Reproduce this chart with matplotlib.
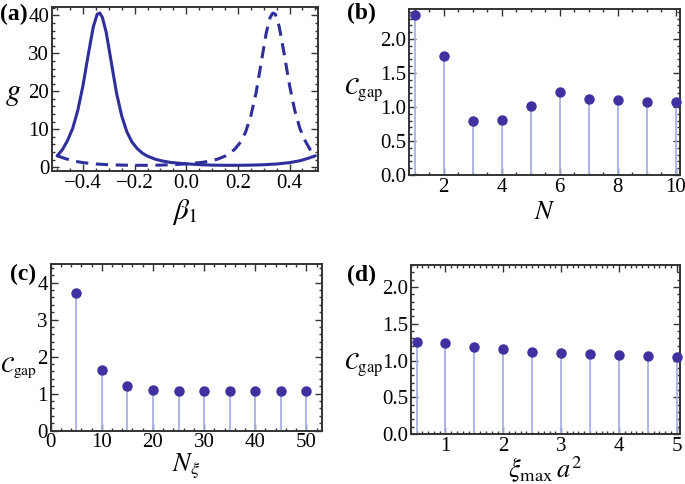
import matplotlib
matplotlib.use("Agg")
import matplotlib.pyplot as plt
from matplotlib.ticker import MultipleLocator

plt.rcParams['font.family'] = ['Liberation Serif', 'DejaVu Serif']
plt.rcParams['mathtext.fontset'] = 'stix'

# (a) g versus beta_1 (solid and dashed curves)
beta_solid = [-0.50, -0.48, -0.46, -0.44, -0.42, -0.40, -0.38, -0.36, -0.345, -0.335,
              -0.325, -0.31, -0.29, -0.27, -0.25, -0.23, -0.21, -0.19, -0.17, -0.15,
              -0.12, -0.09, -0.06, -0.02, 0.02, 0.06, 0.10, 0.15, 0.20, 0.25,
              0.30, 0.35, 0.40, 0.44, 0.47, 0.50]
g_solid = [3.0, 4.6, 7.0, 10.2, 15.0, 21.5, 29.5, 37.0, 40.3, 40.6,
           39.5, 35.5, 27.5, 19.5, 13.5, 9.3, 6.6, 4.9, 3.7, 2.9,
           2.1, 1.6, 1.25, 1.0, 0.8, 0.65, 0.55, 0.5, 0.5, 0.55,
           0.65, 0.85, 1.2, 1.7, 2.3, 3.0]
beta_dashed = [-0.50, -0.47, -0.44, -0.40, -0.35, -0.30, -0.25, -0.20, -0.15, -0.10,
               -0.06, -0.02, 0.02, 0.06, 0.09, 0.12, 0.15, 0.17, 0.19, 0.21,
               0.23, 0.25, 0.27, 0.29, 0.31, 0.325, 0.335, 0.345, 0.36, 0.38,
               0.40, 0.42, 0.44, 0.46, 0.48, 0.50]
g_dashed = [3.0, 2.3, 1.7, 1.2, 0.85, 0.65, 0.55, 0.5, 0.5, 0.55,
            0.65, 0.8, 1.0, 1.25, 1.6, 2.1, 2.9, 3.7, 4.9, 6.6,
            9.3, 13.5, 19.5, 27.5, 35.5, 39.5, 40.6, 40.3, 37.0, 29.5,
            21.5, 15.0, 10.2, 7.0, 4.6, 3.0]

# (b) C_gap versus N
N_vals = [1, 2, 3, 4, 5, 6, 7, 8, 9, 10]
cgap_N = [2.35, 1.75, 0.80, 0.81, 1.02, 1.22, 1.11, 1.10, 1.08, 1.07]

# (c) C_gap versus N_xi
Nxi_vals = [5, 10, 15, 20, 25, 30, 35, 40, 45, 50]
cgap_Nxi = [3.73, 1.63, 1.21, 1.11, 1.08, 1.07, 1.07, 1.07, 1.07, 1.07]

# (d) C_gap versus xi_max a^2
xi_vals = [0.5, 1.0, 1.5, 2.0, 2.5, 3.0, 3.5, 4.0, 4.5, 5.0]
cgap_xi = [1.25, 1.235, 1.185, 1.15, 1.12, 1.098, 1.085, 1.072, 1.062, 1.052]

line_col = '#2e2e9c'
dot_col = '#3f32a0'
stem_col = '#a9b1e3'
frame_col = '#333333'


def frame(ax, xmaj, xmin, ymaj, ymin):
    ax.xaxis.set_major_locator(MultipleLocator(xmaj))
    ax.xaxis.set_minor_locator(MultipleLocator(xmin))
    ax.yaxis.set_major_locator(MultipleLocator(ymaj))
    ax.yaxis.set_minor_locator(MultipleLocator(ymin))
    ax.tick_params(which='both', direction='in', top=True, right=True,
                   color=frame_col, labelsize=15, width=1.0)
    ax.tick_params(which='major', length=5, pad=2)
    ax.tick_params(which='minor', length=2.5)
    for s in ax.spines.values():
        s.set_linewidth(1.4)
        s.set_color(frame_col)


def labels(ax, xl, xy, yl, yx, yy, ysize=17):
    ax.set_xlabel(xl, fontsize=19, va='center', ha='center')
    ax.xaxis.set_label_coords(0.5, xy)
    ax.set_ylabel(yl, fontsize=ysize, rotation=0, va='center', ha='center')
    ax.yaxis.set_label_coords(yx, yy)


def stems(ax, x, y):
    ax.vlines(x, 0, y, color=stem_col, lw=1.3, zorder=2)
    ax.plot(x, y, 'o', color=dot_col, ms=6.5, zorder=3, clip_on=False)


fig = plt.figure(figsize=(6.85, 4.84), dpi=100)
ax_a = fig.add_axes([0.0759, 0.6467, 0.3883, 0.3388])
ax_b = fig.add_axes([0.5971, 0.6384, 0.3956, 0.3430])
ax_c = fig.add_axes([0.0740, 0.1101, 0.3956, 0.3444])
ax_d = fig.add_axes([0.5996, 0.1033, 0.3927, 0.3492])

# (a)
ax_a.plot(beta_solid, g_solid, color=line_col, lw=2.2, solid_capstyle='round')
ax_a.plot(beta_dashed, g_dashed, color=line_col, lw=2.2, dashes=(4, 2.5))
ax_a.set_xlim(-0.52, 0.51)
ax_a.set_ylim(-1.0, 42.2)
frame(ax_a, 0.2, 0.05, 10, 2)
labels(ax_a, r'$\beta_1$', -0.25, r'$g$', -0.147, 0.47)
ax_a.xaxis.label.set_fontsize(21)
ax_a.yaxis.label.set_fontsize(22)

# (b)
stems(ax_b, N_vals, cgap_N)
ax_b.set_xlim(0.8, 10.15)
ax_b.set_ylim(0, 2.44)
frame(ax_b, 2, 0.5, 0.5, 0.1)
labels(ax_b, r'$N$', -0.23, r'$\mathcal{C}_{\rm gap}$', -0.168, 0.51)

# (c)
stems(ax_c, Nxi_vals, cgap_Nxi)
ax_c.set_xlim(0, 53)
ax_c.set_ylim(0, 4.5)
frame(ax_c, 10, 2, 1, 0.2)
labels(ax_c, r'$N_\xi$', -0.22, r'$\mathcal{C}_{\rm gap}$', -0.118, 0.38, ysize=16)

# (d)
stems(ax_d, xi_vals, cgap_xi)
ax_d.set_xlim(0.4, 5.05)
ax_d.set_ylim(0, 2.3)
frame(ax_d, 1, 0.1, 0.5, 0.1)
labels(ax_d, r'$\xi_{\rm max}\,a^2$', -0.21, r'$\mathcal{C}_{\rm gap}$', -0.175, 0.41)

# panel letters
for txt, x, y in [('(a)', 0.0, 0.993), ('(b)', 0.507, 0.995),
                  ('(c)', 0.014, 0.455), ('(d)', 0.507, 0.452)]:
    fig.text(x, y, txt, fontsize=17, fontweight='bold', va='top', ha='left')

fig.savefig('out.png', dpi=100)
